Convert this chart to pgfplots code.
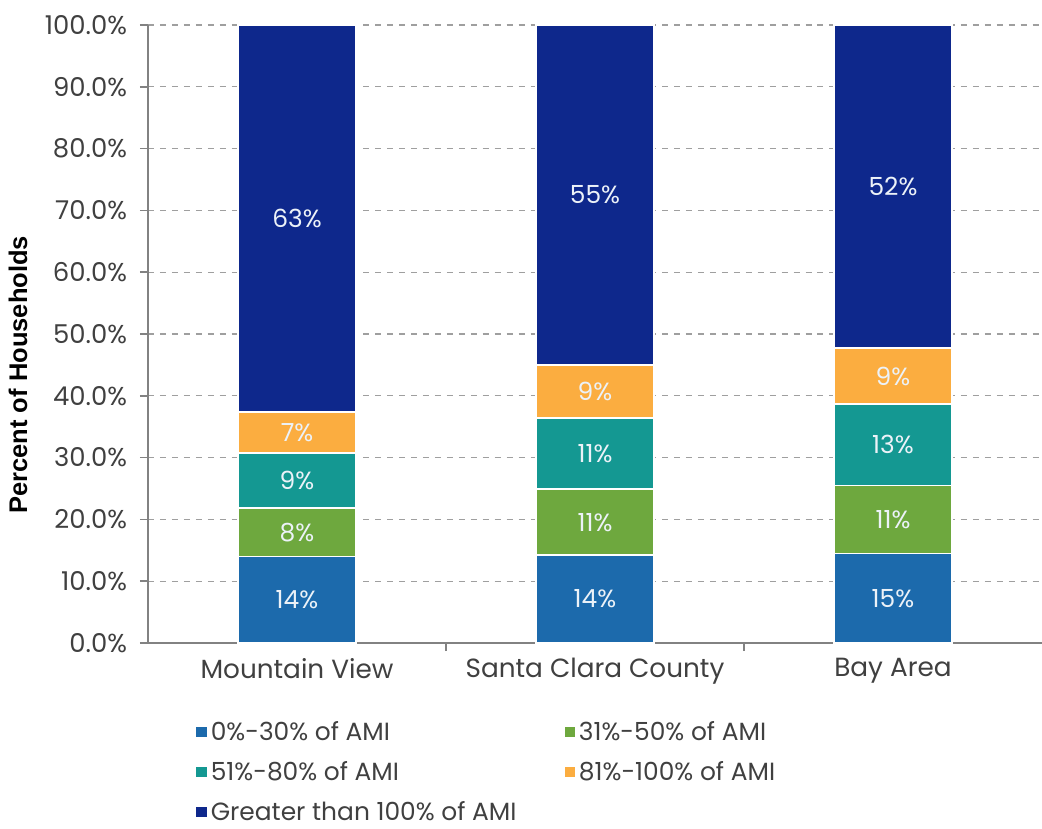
\documentclass[border=0pt]{standalone}
\usepackage{pgfplots}
\pgfplotsset{compat=1.18}
\usepackage{pgfplotstable}
\usepackage{fontspec}
\setmainfont{Poppins}
\newfontfamily\labelfont{Liberation Sans}
\definecolor{cA}{RGB}{28,106,172}
\definecolor{cB}{RGB}{110,168,62}
\definecolor{cC}{RGB}{20,152,146}
\definecolor{cD}{RGB}{251,173,64}
\definecolor{cE}{RGB}{14,40,140}
\definecolor{tickgray}{RGB}{64,64,64}
\definecolor{axgray}{RGB}{130,130,130}
\definecolor{lbl}{RGB}{236,242,248}

\pgfplotstableread{
x a b c d e
0 14.0 7.8 8.9 6.7 62.6
1 14.2 10.7 11.5 8.6 55.0
2 14.5 11.0 13.2 9.0 52.3
}\bars

\pgfplotstableread{
x y label
0 7.0 14
0 17.9 8
0 26.25 9
0 34.05 7
0 68.7 63
1 7.1 14
1 19.55 11
1 30.65 11
1 40.7 9
1 72.5 55
2 7.25 15
2 20.0 11
2 32.1 13
2 43.2 9
2 73.85 52
}\labels

\pgfplotsset{sq/.style={legend image code/.code={\fill[##1, draw=none] (0bp,-2.6bp) rectangle (5.2bp,2.6bp);}}}

\begin{document}
\begin{tikzpicture}
\begin{axis}[
  at={(0,0)}, anchor=south west, scale only axis,
  width=447bp, height=309bp,
  ybar stacked, bar width=0.396,
  xmin=-0.5, xmax=2.5, ymin=0, ymax=100,
  axis x line*=bottom, axis y line*=left,
  axis line style={axgray, line width=1bp},
  xtick={0.5,1.5}, xticklabels={,},
  extra x ticks={0,1,2},
  extra x tick labels={Mountain View, Santa Clara County, Bay Area},
  extra x tick style={major tick length=0pt, grid=none, xticklabel style={yshift=-4bp, font=\fontsize{13.2}{16}\selectfont}},
  ytick={0,10,...,100},
  yticklabel={\pgfmathprintnumber[fixed,fixed zerofill,precision=1]{\tick}\%},
  /pgf/number format/assume math mode=true,
  tick align=outside, major tick length=4bp,
  tick style={axgray, line width=0.8bp},
  tick label style={font=\fontsize{13}{15}\selectfont, text=tickgray},
  yticklabel style={xshift=-3bp},
  ymajorgrids, major grid style={dashed, gray!75, line width=0.6bp},
  ylabel={\labelfont\bfseries Percent of Households},
  every axis y label/.style={at={(axis description cs:-0.1454,0.434)}, rotate=90, anchor=center, font=\fontsize{12.8}{15}\selectfont, text=black},
  legend columns=2,
  legend cell align=left,
  legend style={at={(axis description cs:0.047,-0.113)}, anchor=north west, draw=none, fill=none,
    font=\fontsize{12.5}{15}\selectfont, text=tickgray, row sep=5bp,
    /tikz/every even column/.append style={column sep=22bp}},
]
\addplot[fill=cA, draw=white, line width=0.8bp, sq] table[x=x, y=a]{\bars};
\addlegendentry{0\%-30\% of AMI}
\addplot[fill=cB, draw=white, line width=0.8bp, sq] table[x=x, y=b]{\bars};
\addlegendentry{31\%-50\% of AMI}
\addplot[fill=cC, draw=white, line width=0.8bp, sq] table[x=x, y=c]{\bars};
\addlegendentry{51\%-80\% of AMI}
\addplot[fill=cD, draw=white, line width=0.8bp, sq] table[x=x, y=d]{\bars};
\addlegendentry{81\%-100\% of AMI}
\addplot[fill=cE, draw=white, line width=0.8bp, sq] table[x=x, y=e]{\bars};
\addlegendentry{Greater than 100\% of AMI}
\end{axis}
\begin{axis}[
  at={(0,0)}, anchor=south west, scale only axis,
  width=447bp, height=309bp,
  xmin=-0.5, xmax=2.5, ymin=0, ymax=100, hide axis,
]
\addplot[draw=none, mark=none, nodes near coords={\pgfplotspointmeta\%}, point meta=explicit symbolic,
  every node near coord/.append style={anchor=center, font=\fontsize{12.5}{15}\selectfont, text=lbl}]
  table[x=x, y=y, meta=label]{\labels};
\end{axis}
\pgfresetboundingbox
\path (-74bp,-93bp) rectangle (447bp,321.5bp);
\end{tikzpicture}
\end{document}
